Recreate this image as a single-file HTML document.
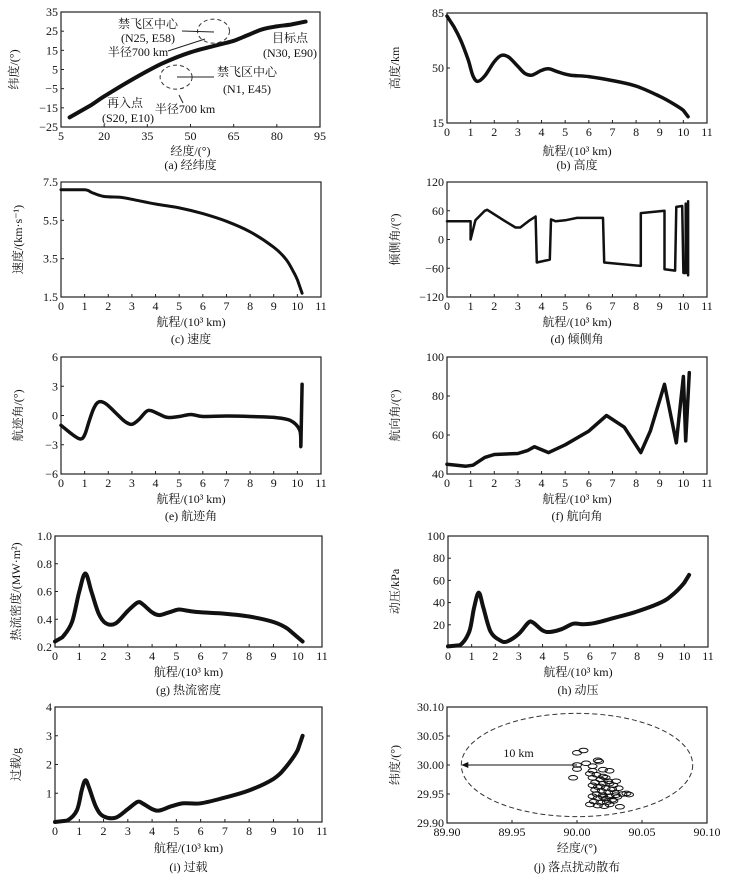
<!DOCTYPE html>
<html><head><meta charset="utf-8"><style>
body{margin:0;background:#fff}
svg{display:block}
text{font-family:"Liberation Serif","Noto Serif CJK SC",serif;font-size:12px;fill:#111}
</style></head><body>
<svg id="fig" width="733" height="882" viewBox="0 0 733 882"></svg>
<script>
// ---- data arrays ----
const aLon=[8,15,20,30,40,50,60,65,70,75,80,85,90];
const aLat=[-20,-14,-9,0,8,14,18,20,23,26,27.5,28.5,30];
const bX=[0,0.3,0.6,0.9,1.1,1.3,1.6,2.0,2.3,2.6,3.0,3.3,3.6,4.0,4.3,4.7,5.2,6,7,8,9,9.6,10,10.2];
const bY=[83,76,67,55,45,41.5,45,54,58,57,51,46.5,45.5,48.5,49.5,47.5,45.5,44.5,42,38.5,32,27,23,19];
const cX=[0,1,1.3,1.8,2.5,3,4,5,6,7,8,9,9.5,9.8,10,10.2];
const cY=[7.1,7.1,6.95,6.75,6.7,6.6,6.35,6.15,5.85,5.45,4.9,4.1,3.5,2.9,2.4,1.7];
const dX=[0,1,1,1.2,1.6,1.7,2.4,2.9,3.1,3.5,3.75,3.8,4.35,4.4,4.6,5.0,5.5,6.6,6.65,8.2,8.2,9.2,9.2,9.65,9.7,9.95,10.0,10.1,10.1,10.2,10.2];
const dY=[38,38,0,40,60,62,40,25,25,40,48,-48,-42,42,38,40,45,45,-48,-55,55,60,-62,-65,68,70,-70,-70,75,-75,80];
const eX=[0,0.4,0.8,1.0,1.2,1.4,1.6,1.9,2.3,2.7,3.0,3.3,3.6,3.8,4.1,4.5,5.0,5.5,6,7,8,9,9.7,10.1,10.15,10.2];
const eY=[-1,-1.8,-2.4,-2,-0.5,0.8,1.4,1.2,0.3,-0.6,-0.9,-0.4,0.4,0.5,0.2,-0.2,-0.1,0.1,-0.1,-0.05,-0.1,-0.2,-0.5,-1.5,-3,3.2];
const fX=[0,0.8,1.1,1.6,2,3,3.4,3.7,4.3,5,6,6.75,7.5,8.2,8.6,9.2,9.7,10,10.1,10.25];
const fY=[45,44,44.5,48.5,50,50.5,52,54,51,55,62,70,64,51,62,86,56,90,57,92];
const gX=[0,0.3,0.7,1.0,1.25,1.5,1.8,2.1,2.5,3.0,3.4,3.6,4.0,4.3,4.7,5.1,5.5,6,7,8,9,9.6,10.2];
const gY=[0.24,0.27,0.38,0.6,0.73,0.6,0.44,0.37,0.37,0.46,0.52,0.51,0.45,0.43,0.45,0.47,0.46,0.45,0.44,0.42,0.38,0.33,0.24];
const hX=[0,0.5,0.9,1.1,1.3,1.5,1.8,2.2,2.5,3.0,3.4,3.6,4,4.3,4.8,5.3,5.7,6.2,7,8,9,9.5,10,10.2];
const hY=[0.5,1.5,14,35,49,35,14,6,5,12,22,22,15,13.5,16,21,20.5,21.5,26,32,40,47,58,65];
const iX=[0,0.5,0.9,1.1,1.25,1.4,1.7,2.0,2.5,3.0,3.4,3.6,4.0,4.3,4.8,5.3,6,7,8,9,9.5,10,10.2];
const iY=[0,0.05,0.4,1.1,1.45,1.2,0.5,0.2,0.15,0.45,0.7,0.65,0.45,0.4,0.55,0.65,0.65,0.85,1.1,1.5,1.9,2.5,3.0];
const jLon=[90.000,90.005,89.997,90.000,90.000,90.007,90.012,90.016,90.017,90.012,90.020,90.025,90.010,90.015,90.020,90.012,90.018,90.022,90.030,90.014,90.020,90.025,90.028,90.012,90.016,90.022,90.027,90.032,90.014,90.019,90.024,90.029,90.035,90.038,90.040,90.015,90.020,90.025,90.030,90.016,90.022,90.027,90.013,90.018,90.023,90.028,90.010,90.016,90.021,90.025,90.033,90.020,90.018,90.024,90.031,90.012];
const jLat=[30.021,30.025,29.978,30.000,29.993,30.003,29.998,30.008,30.006,29.990,29.992,29.990,29.985,29.983,29.980,29.978,29.975,29.978,29.972,29.970,29.968,29.968,29.965,29.965,29.962,29.960,29.958,29.960,29.957,29.955,29.953,29.952,29.950,29.951,29.949,29.950,29.948,29.946,29.948,29.943,29.942,29.940,29.937,29.935,29.936,29.938,29.932,29.930,29.929,29.932,29.928,29.945,29.963,29.972,29.945,29.946];
const rangeTicks=[0,1,2,3,4,5,6,7,8,9,10,11];

const NS='http://www.w3.org/2000/svg';
const svg=document.getElementById('fig');
function el(tag,attrs,parent){const e=document.createElementNS(NS,tag);for(const k in attrs)e.setAttribute(k,attrs[k]);(parent||svg).appendChild(e);return e;}
function txt(s,x,y,anchor,parent,extra){const t=el('text',Object.assign({x:x,y:y,'text-anchor':anchor||'middle'},extra||{}),parent);t.textContent=s;return t;}

function panel(name,box,xd,yd,xt,yt,xlab,ylab,cap,ylabX,xlabY,capY){
  const g=el('g',{});
  
  
  const sx=v=>box.x0+(v-xd[0])/(xd[1]-xd[0])*(box.x1-box.x0);
  const sy=v=>box.y1-(v-yd[0])/(yd[1]-yd[0])*(box.y1-box.y0);
  const r=el('rect',{x:box.x0,y:box.y0,width:box.x1-box.x0,height:box.y1-box.y0,fill:'none',stroke:'#222','stroke-width':1.2},g);
  
  
  xt.forEach(v=>{const X=sx(v);el('line',{x1:X,x2:X,y1:box.y1,y2:box.y1-3,stroke:'#222'},g);
    const t=txt(xt.lab?xt.lab(v):String(v),X,box.y1+13,'middle',g);});
  yt.forEach(v=>{const Y=sy(v);el('line',{x1:box.x0,x2:box.x0+3,y1:Y,y2:Y,stroke:'#222'},g);
    const t=txt(yt.lab?yt.lab(v):String(v).replace('-','−'),box.x0-3,Y+4,'end',g);});
  const xl=txt(xlab,(box.x0+box.x1)/2,xlabY,'middle',g);
  
  
  const cy=(box.y0+box.y1)/2;
  const yl=txt(ylab,ylabX,cy,'middle',g,{transform:`rotate(-90 ${ylabX} ${cy})`});
  
  
  const c=txt(cap,(box.x0+box.x1)/2,capY,'middle',g);
  
  
  return {g,sx,sy};
}
function line(p,xs,ys,w,name,linear){
  const P=xs.map((v,i)=>[p.sx(v),p.sy(ys[i])]);
  let d='M'+P[0][0].toFixed(1)+','+P[0][1].toFixed(1);
  for(let i=0;i<P.length-1;i++){
    const p0=P[i-1]||P[i],p1=P[i],p2=P[i+1],p3=P[i+2]||p2;
    const vert=linear||Math.abs(p2[0]-p1[0])<0.5||Math.abs(p1[0]-p0[0])<0.5||Math.abs(p3[0]-p2[0])<0.5;
    if(vert){d+='L'+p2[0].toFixed(1)+','+p2[1].toFixed(1);continue;}
    const c1=[p1[0]+(p2[0]-p0[0])/6,p1[1]+(p2[1]-p0[1])/6],c2=[p2[0]-(p3[0]-p1[0])/6,p2[1]-(p3[1]-p1[1])/6];
    d+='C'+c1.map(n=>n.toFixed(1))+' '+c2.map(n=>n.toFixed(1))+' '+p2.map(n=>n.toFixed(1));
  }
  const path=el('path',{d:d,fill:'none',stroke:'#111','stroke-width':w,'stroke-linejoin':'round','stroke-linecap':'round'},p.g);
  
  
}
const RX='航程/(10³ km)';

// (a)
const pa=panel('panel-a-lon-lat',{x0:61,x1:320,y0:12,y1:127},[5,95],[-25,35],[5,20,35,50,65,80,95],[-25,-15,-5,5,15,25,35],'经度/(°)','纬度/(°)','(a) 经纬度',18,155,169);
line(pa,aLon,aLat,4,'ground-track');
[[58,25],[45,1]].forEach((c,i)=>{const e=el('ellipse',{cx:pa.sx(c[0]),cy:pa.sy(c[1]),rx:16,ry:12,fill:'none',stroke:'#333','stroke-dasharray':'4,3'},pa.g);
  
  });
el('line',{x1:182,y1:31,x2:214,y2:32,stroke:'#222'},pa.g);
el('line',{x1:168,y1:51,x2:205,y2:39,stroke:'#222'},pa.g);
el('line',{x1:177,y1:77,x2:214,y2:77,stroke:'#222'},pa.g);
el('line',{x1:179,y1:95,x2:183,y2:103,stroke:'#222'},pa.g);
[['禁飞区中心',148,28],['(N25, E58)',148,42],['半径700 km',138,56],['禁飞区中心',247,76],['(N1, E45)',247,93],['半径700 km',185,113],['目标点',290,42],['(N30, E90)',290,57],['再入点',125,107],['(S20, E10)',128,122]].forEach(a=>{
  const t=txt(a[0],a[1],a[2],'middle',pa.g,{'font-size':'13'});});

// (b)
const pb=panel('panel-b-altitude',{x0:447,x1:707,y0:13,y1:123},[0,11],[15,85],rangeTicks,[15,50,85],RX,'高度/km',  '(b) 高度',399,155,169);
line(pb,bX,bY,3.5,'altitude-curve');
// (c)
const pc=panel('panel-c-velocity',{x0:61,x1:321,y0:182,y1:297},[0,11],[1.5,7.5],rangeTicks,[1.5,3.5,5.5,7.5],RX,'速度/(km·s⁻¹)','(c) 速度',22,326,343);
line(pc,cX,cY,3,'velocity-curve');
// (d)
const pd=panel('panel-d-bank',{x0:447,x1:707,y0:182,y1:297},[0,11],[-120,120],rangeTicks,[-120,-60,0,60,120],RX,'倾侧角/(°)','(d) 倾侧角',399,326,343);
line(pd,dX,dY,2.5,'bank-angle-curve',true);
// (e)
const pe=panel('panel-e-flight-path',{x0:61,x1:321,y0:357,y1:474},[0,11],[-6,6],rangeTicks,[-6,-3,0,3,6],RX,'航迹角/(°)','(e) 航迹角',22,503,520);
line(pe,eX,eY,3.5,'flight-path-curve');
// (f)
const pf=panel('panel-f-heading',{x0:447,x1:707,y0:357,y1:474},[0,11],[40,100],rangeTicks,[40,60,80,100],RX,'航向角/(°)','(f) 航向角',399,503,520);
line(pf,fX,fY,3.5,'heading-curve',true);
// (g)
const gyt=[0.2,0.4,0.6,0.8,1.0];gyt.lab=v=>v.toFixed(1);
const pg=panel('panel-g-heat-flux',{x0:55,x1:322,y0:536,y1:647},[0,11],[0.2,1.0],rangeTicks,gyt,RX,'热流密度/(MW·m²)','(g) 热流密度',20,676,694);
line(pg,gX,gY,4,'heat-flux-curve');
// (h)
const ph=panel('panel-h-dyn-pressure',{x0:448,x1:708,y0:536,y1:647},[0,11],[0,100],rangeTicks,[20,40,60,80,100],RX,'动压/kPa','(h) 动压',399,676,694);
line(ph,hX,hY,4,'dynamic-pressure-curve');
// (i)
const pi=panel('panel-i-overload',{x0:55,x1:322,y0:707,y1:822},[0,11],[0,4],rangeTicks,[1,2,3,4],RX,'过载/g','(i) 过载',20,852,871);
line(pi,iX,iY,4,'overload-curve');
// (j)
const jxt=[89.90,89.95,90.00,90.05,90.10];jxt.lab=v=>v.toFixed(2);
const jyt=[29.90,29.95,30.00,30.05,30.10];jyt.lab=v=>v.toFixed(2);
const pj=panel('panel-j-landing-scatter',{x0:447,x1:707,y0:707,y1:823},[89.9,90.1],[29.9,30.1],jxt,jyt,'经度/(°)','纬度/(°)','(j) 落点扰动散布',399,852,871);
const ce=el('ellipse',{cx:pj.sx(90.0),cy:pj.sy(30.0),rx:pj.sx(90.089)-pj.sx(90.0),ry:pj.sy(29.911)-pj.sy(30.0),fill:'none',stroke:'#333','stroke-dasharray':'5,3'},pj.g);


el('line',{x1:pj.sx(90.0),y1:pj.sy(30.0),x2:pj.sx(89.912),y2:pj.sy(30.0),stroke:'#111'},pj.g);
el('path',{d:`M${pj.sx(89.911)},${pj.sy(30)} l7,-3 l0,6 z`,fill:'#111'},pj.g);
const kl=txt('10 km',pj.sx(89.955),pj.sy(30.0)-8,'middle',pj.g,{'font-size':'13'});


jLon.forEach((v,i)=>{const p=el('ellipse',{cx:pj.sx(v),cy:pj.sy(jLat[i]),rx:4.5,ry:2.3,fill:'none',stroke:'#111','stroke-width':1},pj.g);
  
  });
</script>
</body></html>
